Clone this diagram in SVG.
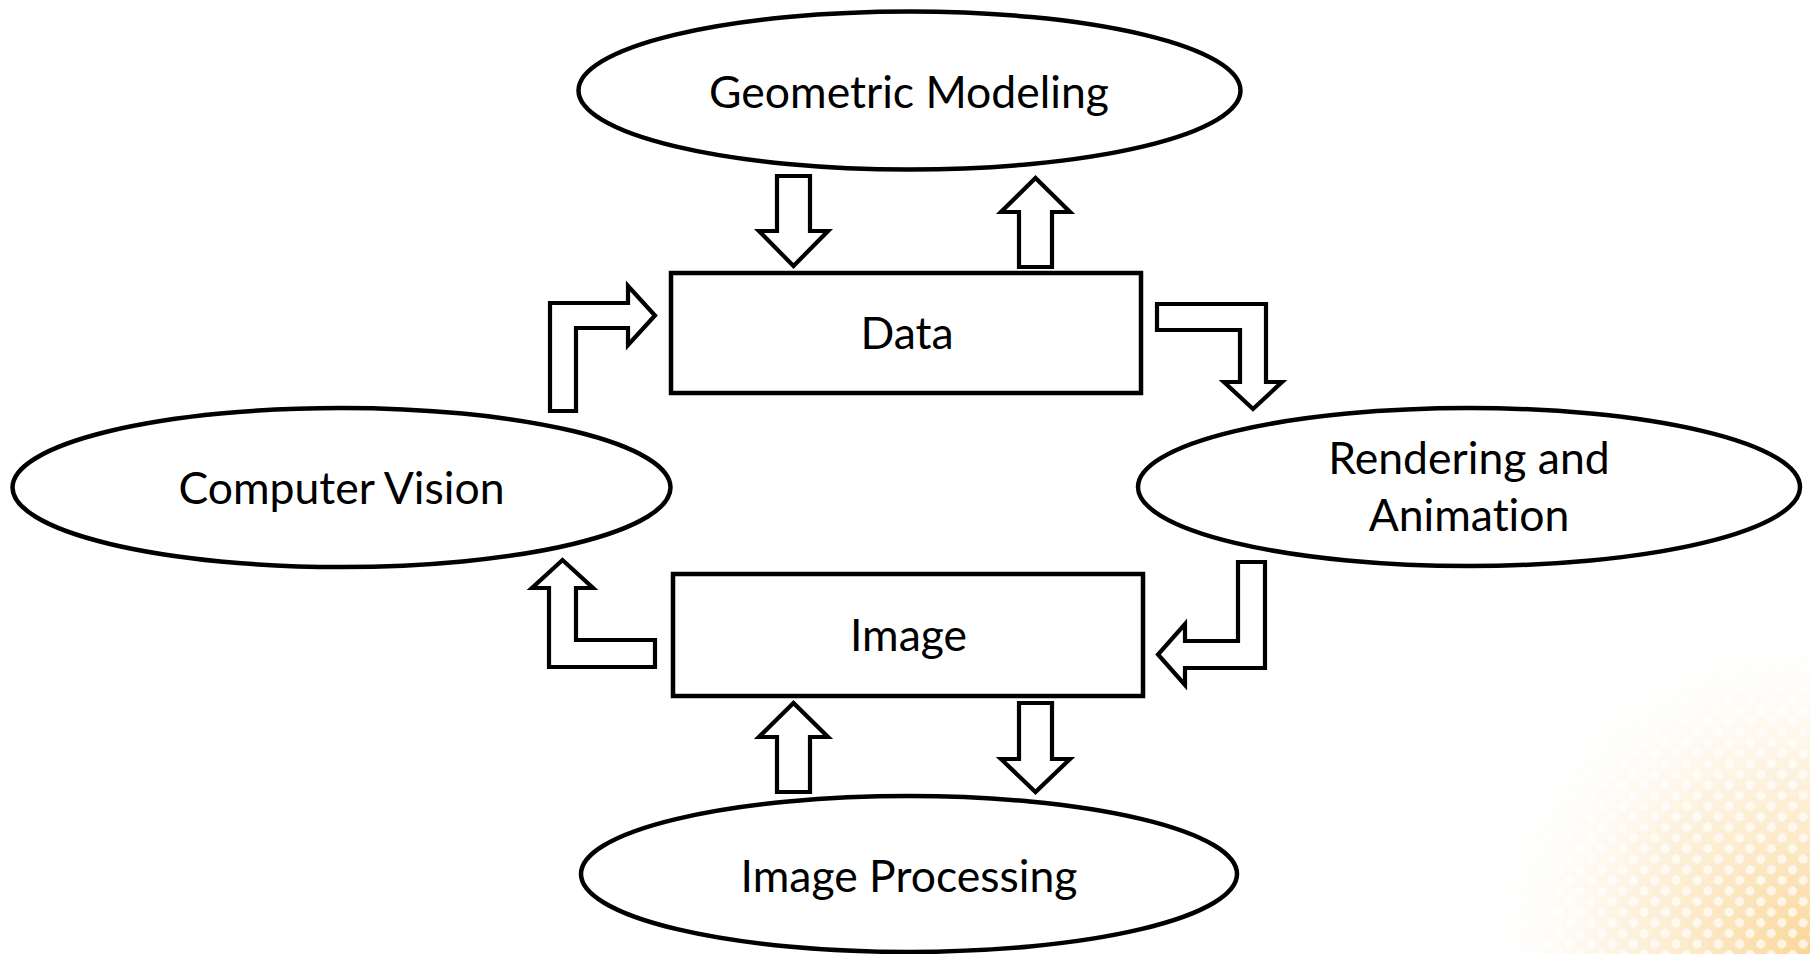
<svg xmlns="http://www.w3.org/2000/svg" width="1810" height="954" viewBox="0 0 1810 954">
<style>
.shape{fill:#fff;stroke:#000;stroke-width:4.5}
.arrow{fill:#fff;stroke:#000;stroke-width:4.2;stroke-linejoin:miter}
.lbl{font-family:Lato,"Liberation Sans",sans-serif;font-size:44.5px;fill:#000;text-anchor:middle;font-variant-ligatures:none}
</style>
<defs>
<radialGradient id="warm" cx="1810" cy="954" r="340" gradientUnits="userSpaceOnUse">
<stop offset="0" stop-color="#F7C468" stop-opacity="0.7"/>
<stop offset="0.55" stop-color="#FAD699" stop-opacity="0.3"/>
<stop offset="1" stop-color="#FFFFFF" stop-opacity="0"/>
</radialGradient>
<pattern id="dots" width="15" height="15" patternUnits="userSpaceOnUse" patternTransform="rotate(45)">
<circle cx="7.5" cy="7.5" r="4.5" fill="#fff" fill-opacity="0.7"/>
</pattern>
</defs>
<rect width="1810" height="954" fill="#fff"/>
<g id="background">
<rect x="1440" y="600" width="370" height="354" fill="url(#warm)"/>
<rect x="1440" y="600" width="370" height="354" fill="url(#dots)"/>
</g>
<g id="connectors">
<polygon class="arrow" points="777,176 810,176 810,231 828,231 793.5,266 759,231 777,231"/>
<polygon class="arrow" points="1019,267 1019,212 1001,212 1035.5,178 1070,212 1052,212 1052,267"/>
<polygon class="arrow" points="550,411 550,303 628,303 628,286 655,315.5 628,345 628,328 576,328 576,411"/>
<polygon class="arrow" points="1157,304 1266,304 1266,382 1282,382 1253,409 1224,382 1240,382 1240,330 1157,330"/>
<polygon class="arrow" points="1238,562 1265,562 1265,668 1185,668 1185,685 1158,654.5 1185,624 1185,641 1238,641"/>
<polygon class="arrow" points="655,667 549,667 549,588 532,588 562.5,560 593,588 576,588 576,640 655,640"/>
<polygon class="arrow" points="777,792 777,737 759,737 793.5,703 828,737 810,737 810,792"/>
<polygon class="arrow" points="1019,703 1052,703 1052,759 1070,759 1035.5,792 1001,759 1019,759"/>
</g>
<g id="geometric-modeling">
<ellipse class="shape" cx="909.5" cy="90.5" rx="331" ry="79"/>
<text class="lbl" x="909" y="108">Geometric Modeling</text>
</g>
<g id="data">
<rect class="shape" x="671" y="273" width="470" height="120"/>
<text class="lbl" x="907" y="349">Data</text>
</g>
<g id="computer-vision">
<ellipse class="shape" cx="341.5" cy="487.5" rx="329" ry="79.5"/>
<text class="lbl" x="341.5" y="504">Computer Vision</text>
</g>
<g id="rendering-animation">
<ellipse class="shape" cx="1469" cy="487" rx="331" ry="79"/>
<text class="lbl" x="1469" y="474">Rendering and</text>
<text class="lbl" x="1469" y="531">Animation</text>
</g>
<g id="image">
<rect class="shape" x="673" y="574" width="470" height="122"/>
<text class="lbl" x="908.5" y="651">Image</text>
</g>
<g id="image-processing">
<ellipse class="shape" cx="909" cy="874" rx="328" ry="78"/>
<text class="lbl" x="909" y="892">Image Processing</text>
</g>
</svg>
